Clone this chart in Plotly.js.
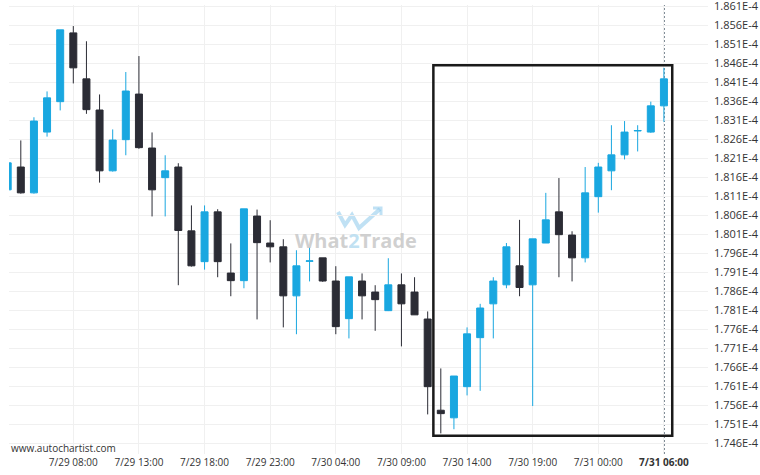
<!DOCTYPE html>
<html>
<head>
<meta charset="utf-8">
<script src="https://cdn.plot.ly/plotly-3.0.1.min.js"></script>
<style>
  html, body { margin: 0; padding: 0; background: #ffffff; }
  #chart { width: 760px; height: 475px; }
</style>
</head>
<body>
<div id="chart"></div>
<script>
// Hourly candles, prices in units of 1E-4
const times = [
  '2024-07-29 03:00','2024-07-29 04:00','2024-07-29 05:00','2024-07-29 06:00','2024-07-29 07:00',
  '2024-07-29 08:00','2024-07-29 09:00','2024-07-29 10:00','2024-07-29 11:00','2024-07-29 12:00',
  '2024-07-29 13:00','2024-07-29 14:00','2024-07-29 15:00','2024-07-29 16:00','2024-07-29 17:00',
  '2024-07-29 18:00','2024-07-29 19:00','2024-07-29 20:00','2024-07-29 21:00','2024-07-29 22:00',
  '2024-07-29 23:00','2024-07-30 00:00','2024-07-30 01:00','2024-07-30 02:00','2024-07-30 03:00',
  '2024-07-30 04:00','2024-07-30 05:00','2024-07-30 06:00','2024-07-30 07:00','2024-07-30 08:00',
  '2024-07-30 09:00','2024-07-30 10:00','2024-07-30 11:00','2024-07-30 12:00','2024-07-30 13:00',
  '2024-07-30 14:00','2024-07-30 15:00','2024-07-30 16:00','2024-07-30 17:00','2024-07-30 18:00',
  '2024-07-30 19:00','2024-07-30 20:00','2024-07-30 21:00','2024-07-30 22:00','2024-07-30 23:00',
  '2024-07-31 00:00','2024-07-31 01:00','2024-07-31 02:00','2024-07-31 03:00','2024-07-31 04:00',
  '2024-07-31 05:00'
];
const openP = [1.8127,1.8187,1.8119,1.8279,1.8359,1.8540,1.8419,1.8337,1.8177,1.8259,
               1.8379,1.8237,1.8159,1.8187,1.8019,1.7938,1.8069,1.7908,1.7888,1.8058,
               1.7987,1.7977,1.7848,1.7939,1.7948,1.7887,1.7788,1.7887,1.7858,1.7809,
               1.7877,1.7858,1.7787,1.7547,1.7527,1.7609,1.7738,1.7827,1.7877,1.7927,
               1.7877,1.7987,1.8069,1.8008,1.7948,1.8109,1.8177,1.8219,1.8282,1.8279,
               1.8348];
const highP = [1.8198,1.8257,1.8318,1.8386,1.8548,1.8558,1.8518,1.8378,1.8286,1.8437,
               1.8479,1.8278,1.8218,1.8197,1.8086,1.8086,1.8076,1.7986,1.8077,1.8075,
               1.8047,1.7997,1.7968,1.7976,1.7948,1.7926,1.7898,1.7907,1.7876,1.7947,
               1.7907,1.7897,1.7807,1.7657,1.7637,1.7765,1.7827,1.7897,1.7987,1.8048,
               1.7998,1.8119,1.8158,1.8018,1.8187,1.8198,1.8297,1.8308,1.8297,1.8359,
               1.8448];
const lowP  = [1.8127,1.8117,1.8117,1.8267,1.8336,1.8407,1.8327,1.8146,1.8175,1.8218,
               1.8235,1.8057,1.8057,1.7876,1.7925,1.7917,1.7897,1.7847,1.7868,1.7786,
               1.7936,1.7765,1.7747,1.7886,1.7885,1.7747,1.7736,1.7786,1.7756,1.7808,
               1.7715,1.7798,1.7536,1.7486,1.7497,1.7586,1.7598,1.7736,1.7868,1.7847,
               1.7558,1.7987,1.7897,1.7886,1.7936,1.8067,1.8126,1.8207,1.8228,1.8277,
               1.8306];
const closeP = [1.8198,1.8119,1.8308,1.8369,1.8548,1.8448,1.8338,1.8177,1.8258,1.8387,
                1.8238,1.8127,1.8177,1.8020,1.7927,1.8069,1.7938,1.7888,1.8077,1.7988,
                1.7977,1.7848,1.7927,1.7940,1.7887,1.7767,1.7898,1.7848,1.7838,1.7877,
                1.7827,1.7798,1.7609,1.7538,1.7637,1.7748,1.7816,1.7887,1.7977,1.7870,
                1.7998,1.8048,1.8009,1.7948,1.8119,1.8187,1.8219,1.8279,1.8283,1.8348,
                1.8419];

// axis ticks
const xTickVals = ['2024-07-29 08:00','2024-07-29 13:00','2024-07-29 18:00','2024-07-29 23:00',
                   '2024-07-30 04:00','2024-07-30 09:00','2024-07-30 14:00','2024-07-30 19:00',
                   '2024-07-31 00:00','2024-07-31 05:00'];
const xTickText = ['7/29 08:00','7/29 13:00','7/29 18:00','7/29 23:00','7/30 04:00',
                   '7/30 09:00','7/30 14:00','7/30 19:00','7/31 00:00','<b>7/31 06:00</b>'];
const yTickVals = [1.746,1.751,1.756,1.761,1.766,1.771,1.776,1.781,1.786,1.791,1.796,1.801,
                   1.806,1.811,1.816,1.821,1.826,1.831,1.836,1.841,1.846,1.851,1.856,1.861];
const yTickText = yTickVals.map(v => v.toFixed(3) + 'E-4');

// detected pattern box
const patternStart = '2024-07-30 11:26';
const patternEnd   = '2024-07-31 05:38';
const patternHigh  = 1.8455;
const patternLow   = 1.7480;
const currentTime  = '2024-07-31 05:00';

const BLUE = '#19a7e0';
const DARK = '#2b2c35';

// helpers for placing decorations in pixel terms on paper
const PL = 9, PR = 708, PT = 5, PB = 454;
const px = x => (x - PL) / (PR - PL);
const py = y => (PB - y) / (PB - PT);

const trace = {
  type: 'candlestick',
  x: times, open: openP, high: highP, low: lowP, close: closeP,
  increasing: { line: { color: BLUE, width: 1 }, fillcolor: BLUE },
  decreasing: { line: { color: DARK, width: 1 }, fillcolor: DARK },
  whiskerwidth: 0,
  hoverinfo: 'skip'
};

const logoPath = 'M ' + px(338) + ' ' + py(212) + ' L ' + px(345) + ' ' + py(225) +
                 ' L ' + px(352) + ' ' + py(215) + ' L ' + px(359) + ' ' + py(228) +
                 ' L ' + px(380) + ' ' + py(209);
const arrowPath = 'M ' + px(373) + ' ' + py(208) + ' L ' + px(381) + ' ' + py(208) +
                  ' L ' + px(381) + ' ' + py(216);

const layout = {
  width: 760, height: 475,
  margin: { l: PL, r: 760 - PR, t: PT, b: 475 - PB, pad: 0 },
  paper_bgcolor: '#ffffff', plot_bgcolor: '#ffffff',
  showlegend: false,
  boxgap: 0.24,
  font: { family: 'Open Sans, sans-serif', color: '#333333' },
  xaxis: {
    type: 'date',
    range: ['2024-07-29 03:06', '2024-07-31 08:21:30'],
    rangeslider: { visible: false },
    tickmode: 'array', tickvals: xTickVals, ticktext: xTickText,
    tickfont: { size: 10, color: '#333333' },
    ticklabelstandoff: 1,
    showgrid: true, gridcolor: '#f0f0f0', gridwidth: 1,
    zeroline: false, showline: false, ticks: '',
    fixedrange: true
  },
  yaxis: {
    side: 'right',
    range: [1.74318, 1.86134],
    tickmode: 'array', tickvals: yTickVals, ticktext: yTickText,
    tickfont: { size: 11, color: '#333333' },
    ticklabelstandoff: 5,
    ticklabeloverflow: 'allow',
    showgrid: true, gridcolor: '#f0f0f0', gridwidth: 1,
    zeroline: false, showline: false, ticks: '',
    fixedrange: true
  },
  shapes: [
    { type: 'path', xref: 'paper', yref: 'paper', path: logoPath, layer: 'below',
      line: { color: 'rgba(140,200,235,0.55)', width: 4 } },
    { type: 'path', xref: 'paper', yref: 'paper', path: arrowPath, layer: 'below',
      line: { color: 'rgba(140,200,235,0.55)', width: 3 } },
    { type: 'line', xref: 'x', yref: 'paper', x0: currentTime, x1: currentTime, y0: 0, y1: 1.0,
      layer: 'between',
      line: { color: '#10283a', width: 1.2, dash: '2px,2px' } },
    { type: 'rect', xref: 'x', yref: 'y', x0: patternStart, x1: patternEnd,
      y0: patternLow, y1: patternHigh,
      line: { color: '#1a1a1a', width: 2.5 }, fillcolor: 'rgba(0,0,0,0)' }
  ],
  annotations: [
    { xref: 'paper', yref: 'paper', x: px(356), y: py(240), xanchor: 'center', yanchor: 'middle',
      showarrow: false,
      text: 'What<span style="color:#b6dcf0">2</span>Trade',
      font: { family: 'Open Sans, sans-serif', size: 20, weight: 700, color: 'rgba(200,200,200,0.85)' } },
    { xref: 'paper', yref: 'paper', x: 0, y: py(448), xanchor: 'left', yanchor: 'middle',
      showarrow: false, text: 'www.autochartist.com',
      font: { family: 'Open Sans, sans-serif', size: 10, color: '#333333' } }
  ]
};

Plotly.newPlot('chart', [trace], layout, { displayModeBar: false, staticPlot: true });
</script>
</body>
</html>
